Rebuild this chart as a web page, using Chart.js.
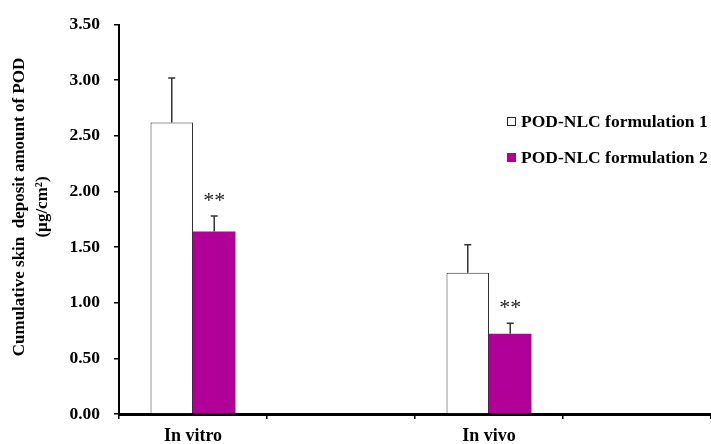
<!DOCTYPE html>
<html>
<head>
<meta charset="utf-8">
<script src="https://cdn.jsdelivr.net/npm/chart.js@4/dist/chart.umd.min.js"></script>
<style>
  html, body { margin: 0; padding: 0; background: #fff; }
  #wrap { width: 711px; height: 444px; position: relative; }
</style>
</head>
<body>
<div id="wrap"><canvas id="c" width="711" height="444"></canvas></div>
<script>
// ---- data ----
const categories = ['In vitro', 'In vivo'];
const seriesNames = ['POD-NLC formulation 1', 'POD-NLC formulation 2'];
const formulation1 = [2.62, 1.27];
const formulation2 = [1.64, 0.72];
const errors1 = [0.40, 0.25];
const errors2 = [0.14, 0.095];
const significance2 = ['**', '**'];
const yTicks = [0, 0.5, 1.0, 1.5, 2.0, 2.5, 3.0, 3.5];
const yTitleLines = ['Cumulative skin  deposit amount of POD', '(\u00b5g/cm\u00b2)'];

// the reference axis has an empty slot after each group
const labels = [];
const d1 = [], d2 = [], e1 = [], e2 = [], s2 = [];
categories.forEach((c, i) => {
  labels.push(c, '');
  d1.push(formulation1[i], null);
  d2.push(formulation2[i], null);
  e1.push(errors1[i], null);
  e2.push(errors2[i], null);
  s2.push(significance2[i], null);
});

const FONT = "'Liberation Serif', 'Times New Roman', serif";
const MAGENTA = '#B10097';

const extras = {
  id: 'extras',
  afterDatasetsDraw(chart) {
    const ctx = chart.ctx;
    const y = chart.scales.y;
    const errs = [e1, e2];
    ctx.save();
    chart.data.datasets.forEach((ds, di) => {
      const meta = chart.getDatasetMeta(di);
      meta.data.forEach((bar, i) => {
        const v = ds.data[i];
        if (v == null) return;
        const err = errs[di][i];
        const top = y.getPixelForValue(v);
        const ey = y.getPixelForValue(v + err);
        ctx.strokeStyle = '#333';
        ctx.lineWidth = 1.5;
        ctx.beginPath();
        ctx.moveTo(bar.x, top);
        ctx.lineTo(bar.x, ey);
        ctx.moveTo(bar.x - 3.5, ey);
        ctx.lineTo(bar.x + 3.5, ey);
        ctx.stroke();
        if (di === 1 && s2[i]) {
          ctx.fillStyle = '#222';
          ctx.font = '22px ' + FONT;
          ctx.textAlign = 'center';
          ctx.textBaseline = 'alphabetic';
          ctx.fillText(s2[i], bar.x, ey - 9);
        }
      });
    });
    // y-axis title (two rotated lines)
    ctx.fillStyle = '#000';
    ctx.font = 'bold 17px ' + FONT;
    ctx.textAlign = 'center';
    ctx.textBaseline = 'middle';
    const xs = [20, 43];
    yTitleLines.forEach((t, k) => {
      ctx.save();
      ctx.translate(xs[k], 207);
      ctx.rotate(-Math.PI / 2);
      ctx.fillText(t, 0, 0);
      ctx.restore();
    });
    // legend
    const fills = ['#ffffff', MAGENTA];
    const strokes = ['#222', MAGENTA];
    const ly = [122, 158];
    seriesNames.forEach((n, k) => {
      ctx.fillStyle = fills[k];
      ctx.fillRect(507, ly[k] - 5, 9, 9);
      ctx.strokeStyle = strokes[k];
      ctx.lineWidth = 1;
      ctx.strokeRect(507.5, ly[k] - 4.5, 8, 8);
      ctx.fillStyle = '#000';
      ctx.font = 'bold 17.5px ' + FONT;
      ctx.textAlign = 'left';
      ctx.textBaseline = 'alphabetic';
      ctx.fillText(n, 521, ly[k] + 5);
    });
    ctx.restore();
  }
};

new Chart(document.getElementById('c'), {
  type: 'bar',
  data: {
    labels: labels,
    datasets: [
      { label: seriesNames[0], data: d1, backgroundColor: '#ffffff', borderColor: '#333', borderWidth: 1 },
      { label: seriesNames[1], data: d2, backgroundColor: MAGENTA, borderWidth: 0 }
    ]
  },
  options: {
    responsive: false,
    animation: false,
    devicePixelRatio: 1,
    layout: { padding: { top: 22, left: 0, right: 0, bottom: 0 } },
    categoryPercentage: 0.574,
    barPercentage: 1.0,
    plugins: { legend: { display: false }, tooltip: { enabled: false } },
    scales: {
      x: {
        offset: true,
        grid: { display: true, offset: true, drawOnChartArea: false, drawTicks: true, tickLength: 5, color: '#000', lineWidth: 1.5 },
        border: { display: true, color: '#000', width: 3 },
        ticks: { color: '#000', font: { family: FONT, size: 18, weight: 'bold' }, padding: 7, autoSkip: false, maxRotation: 0 },
        afterFit(s) { s.height = 30; }
      },
      y: {
        min: 0, max: 3.5,
        afterBuildTicks(s) { s.ticks = yTicks.map(v => ({ value: v })); },
        grid: { display: true, drawOnChartArea: false, drawTicks: true, tickLength: 5, color: '#000', lineWidth: 1.5 },
        border: { display: true, color: '#000', width: 2 },
        ticks: { color: '#000', font: { family: FONT, size: 17.5, weight: 'bold' }, padding: 14,
                 callback: v => Number(v).toFixed(2) },
        afterFit(s) { s.width = 119; }
      }
    }
  },
  plugins: [extras]
});
</script>
</body>
</html>
